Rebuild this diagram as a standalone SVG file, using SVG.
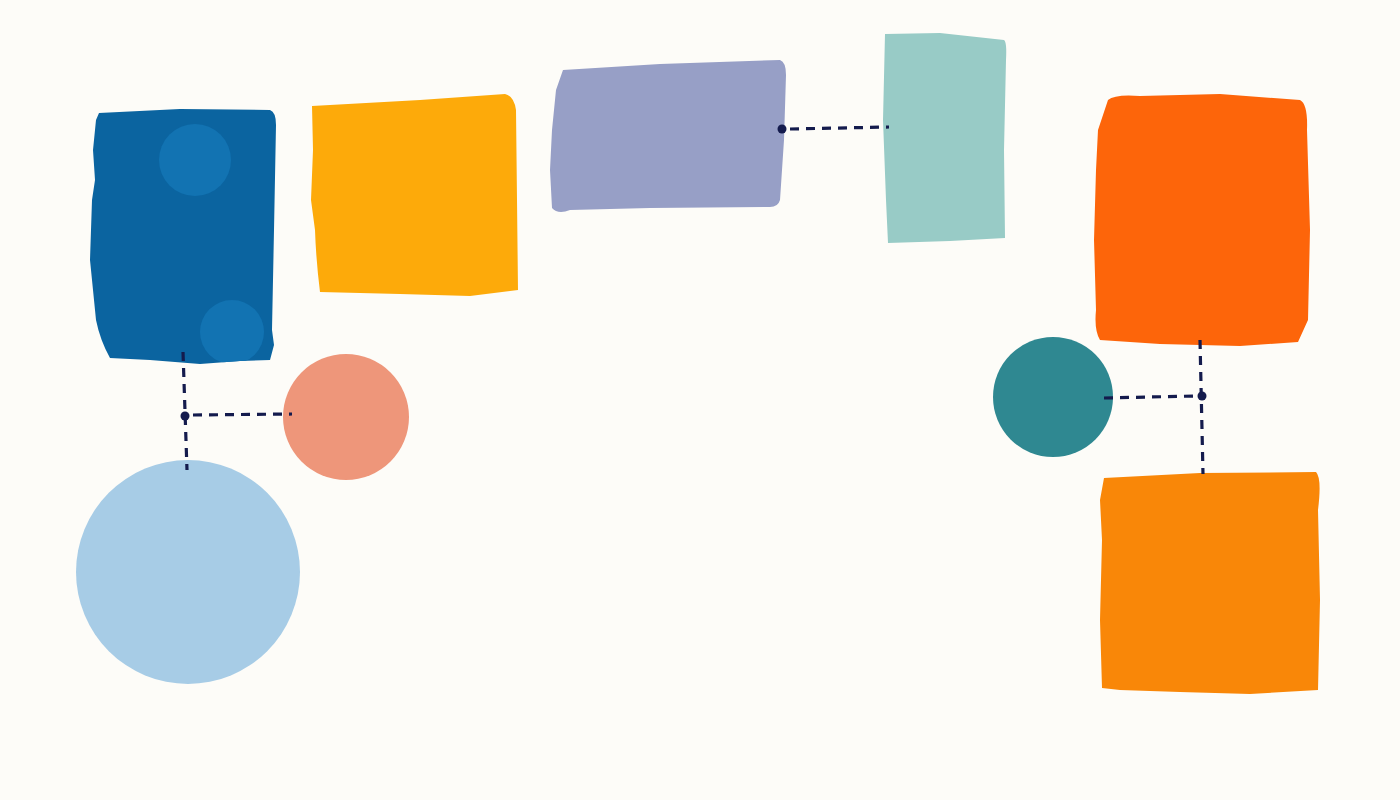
<svg xmlns="http://www.w3.org/2000/svg" width="1400" height="800" viewBox="0 0 1400 800">
<style>
.conn{stroke:#141b4d;stroke-width:3.2;stroke-dasharray:9 7;fill:none;stroke-linecap:butt}
.dot{fill:#141b4d}
</style>
<defs>
<clipPath id="blueClip"><path id="bluePath" d="M99,113 L180,109 L270,110 Q276,112 276,125 L274,230 L272,330 L274,345 L270,360 L240,361 L200,364 L150,360 L110,358 Q100,340 96,320 L90,260 L92,200 L95,180 L93,150 L96,120 Z"/></clipPath>
</defs>
<rect width="1400" height="800" fill="#fdfcf8"/>
<g id="blue-block">
<path d="M99,113 L180,109 L270,110 Q276,112 276,125 L274,230 L272,330 L274,345 L270,360 L240,361 L200,364 L150,360 L110,358 Q100,340 96,320 L90,260 L92,200 L95,180 L93,150 L96,120 Z" fill="#0b64a0"/>
<g clip-path="url(#blueClip)">
<circle cx="195" cy="160" r="36" fill="#1273b2"/>
<circle cx="232" cy="332" r="32" fill="#1273b2"/>
</g>
</g>
<g id="yellow-block">
<path d="M312,106 L420,100 L505,94 Q514,96 516,110 L517,200 L518,290 L470,296 L400,294 L320,292 Q316,260 315,230 L311,200 L313,150 Z" fill="#fdaa0a"/>
</g>
<g id="purple-block">
<path d="M563,70 L660,64 L780,60 Q786,62 786,75 L784,140 L780,200 Q778,207 770,207 L650,208 L570,210 Q558,215 552,208 L550,170 L552,130 L556,90 Z" fill="#979fc6"/>
</g>
<g id="mint-block">
<path d="M885,34 L940,33 L1004,40 Q1007,42 1006,60 L1004,150 L1005,238 L950,241 L888,243 L886,200 L883,120 Z" fill="#98cbc6"/>
</g>
<g id="red-orange-block">
<path d="M1108,100 Q1115,94 1140,96 L1220,94 L1300,100 Q1308,104 1307,130 L1310,230 L1308,320 L1298,342 L1240,346 L1160,344 L1100,340 Q1094,330 1096,310 L1094,240 L1096,170 L1098,130 Z" fill="#fd650a"/>
</g>
<g id="orange-block">
<path d="M1104,478 L1200,473 L1316,472 Q1322,478 1318,510 L1320,600 L1318,690 L1250,694 L1180,692 L1120,690 L1102,688 L1100,620 L1102,540 L1100,500 Z" fill="#f98708"/>
</g>
<g id="salmon-circle"><circle cx="346" cy="417" r="63" fill="#ee967a"/></g>
<g id="lightblue-circle"><circle cx="188" cy="572" r="112" fill="#a7cce6"/></g>
<g id="teal-circle"><circle cx="1053" cy="397" r="60" fill="#2f8891"/></g>
<g id="connectors">
<path class="conn" d="M183,352 L187,470"/>
<path class="conn" d="M193,415 L292,414"/>
<circle class="dot" cx="185" cy="416" r="4.5"/>
<path class="conn" d="M790,129 L889,127"/>
<circle class="dot" cx="782" cy="129" r="4.5"/>
<path class="conn" d="M1200,340 L1203,474"/>
<path class="conn" d="M1104,398 L1196,396"/>
<circle class="dot" cx="1202" cy="396" r="4.5"/>
</g>
</svg>
